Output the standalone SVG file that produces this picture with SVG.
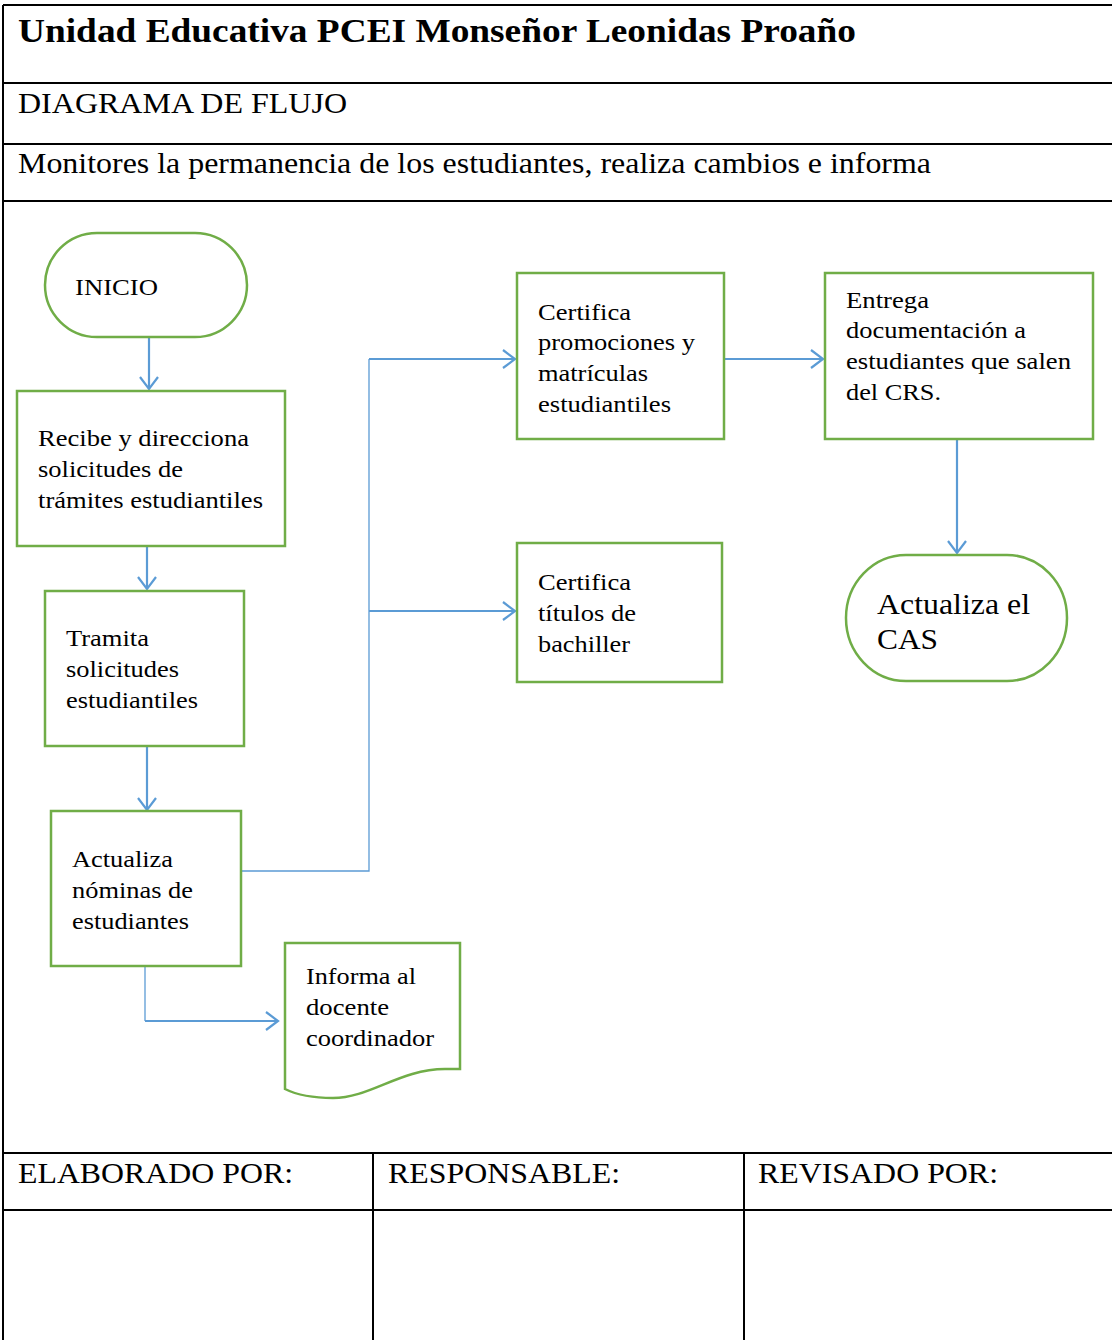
<svg xmlns="http://www.w3.org/2000/svg" width="1112" height="1340" viewBox="0 0 1112 1340">
<style>
.box{fill:#fff;stroke:#70AD47;stroke-width:2.5}
.c{fill:none;stroke:#5B9BD5;stroke-width:2.2}
.ct{fill:none;stroke:#5B9BD5;stroke-width:1.3}
.g{stroke:#000;stroke-width:2;fill:none}
</style>
<defs>
<marker id="a" markerUnits="userSpaceOnUse" markerWidth="16" markerHeight="22" refX="13" refY="10" orient="auto">
<path d="M1,1 L13,10 L1,19" fill="none" stroke="#5B9BD5" stroke-width="2.2"/>
</marker>
</defs>
<rect width="1112" height="1340" fill="#fff"/>
<g id="table" font-family="Liberation Serif, serif" fill="#000">
<path class="g" d="M3,5 H1112 M3,83 H1112 M3,144 H1112 M3,201 H1112 M3,1153 H1112 M3,1210 H1112 M3,5 V1340 M373,1153 V1340 M744,1153 V1340"/>
<text x="18" y="42" font-size="33" font-weight="bold" textLength="838" lengthAdjust="spacingAndGlyphs">Unidad Educativa PCEI Monseñor Leonidas Proaño</text>
<text x="18" y="113" font-size="29" textLength="329" lengthAdjust="spacingAndGlyphs">DIAGRAMA DE FLUJO</text>
<text x="18" y="173" font-size="29" textLength="913" lengthAdjust="spacingAndGlyphs">Monitores la permanencia de los estudiantes, realiza cambios e informa</text>
<text x="18" y="1183" font-size="29" textLength="275" lengthAdjust="spacingAndGlyphs">ELABORADO POR:</text>
<text x="388" y="1183" font-size="29" textLength="232" lengthAdjust="spacingAndGlyphs">RESPONSABLE:</text>
<text x="758" y="1183" font-size="29" textLength="240" lengthAdjust="spacingAndGlyphs">REVISADO POR:</text>
</g>
<g id="connectors">
<line class="c" x1="149" y1="337" x2="149" y2="389" marker-end="url(#a)"/>
<line class="c" x1="147" y1="546" x2="147" y2="589" marker-end="url(#a)"/>
<line class="c" x1="147" y1="746" x2="147" y2="810" marker-end="url(#a)"/>
<polyline class="ct" points="241,871 369,871 369,359"/>
<line class="c" x1="369" y1="359" x2="515" y2="359" marker-end="url(#a)"/>
<line class="c" x1="369" y1="611" x2="515" y2="611" marker-end="url(#a)"/>
<line class="c" x1="722" y1="359" x2="823" y2="359" marker-end="url(#a)"/>
<line class="c" x1="957" y1="439" x2="957" y2="553" marker-end="url(#a)"/>
<line class="ct" x1="145" y1="966" x2="145" y2="1021"/>
<line class="c" x1="145" y1="1021" x2="278" y2="1021" marker-end="url(#a)"/>
</g>
<g id="inicio" font-family="Liberation Serif, serif" font-size="23.5" fill="#000">
<rect class="box" x="45" y="233" width="202" height="104" rx="52" ry="52"/>
<text x="75" y="295" textLength="83" lengthAdjust="spacingAndGlyphs">INICIO</text>
</g>
<g id="recibe" font-family="Liberation Serif, serif" font-size="23.5" fill="#000">
<rect class="box" x="17" y="391" width="268" height="155"/>
<text x="38" y="446" textLength="211" lengthAdjust="spacingAndGlyphs">Recibe y direcciona</text>
<text x="38" y="477" textLength="145" lengthAdjust="spacingAndGlyphs">solicitudes de</text>
<text x="38" y="508" textLength="225" lengthAdjust="spacingAndGlyphs">trámites estudiantiles</text>
</g>
<g id="tramita" font-family="Liberation Serif, serif" font-size="23.5" fill="#000">
<rect class="box" x="45" y="591" width="199" height="155"/>
<text x="66" y="646" textLength="83" lengthAdjust="spacingAndGlyphs">Tramita</text>
<text x="66" y="677" textLength="113" lengthAdjust="spacingAndGlyphs">solicitudes</text>
<text x="66" y="708" textLength="132" lengthAdjust="spacingAndGlyphs">estudiantiles</text>
</g>
<g id="actualiza-nominas" font-family="Liberation Serif, serif" font-size="23.5" fill="#000">
<rect class="box" x="51" y="811" width="190" height="155"/>
<text x="72" y="867" textLength="101" lengthAdjust="spacingAndGlyphs">Actualiza</text>
<text x="72" y="898" textLength="121" lengthAdjust="spacingAndGlyphs">nóminas de</text>
<text x="72" y="929" textLength="117" lengthAdjust="spacingAndGlyphs">estudiantes</text>
</g>
<g id="informa" font-family="Liberation Serif, serif" font-size="23.5" fill="#000">
<path class="box" d="M285,943 H460 V1069 H445 C400,1069 370,1098 333,1098 C310,1098 295,1094 285,1089 Z"/>
<text x="306" y="984" textLength="110" lengthAdjust="spacingAndGlyphs">Informa al</text>
<text x="306" y="1015" textLength="83" lengthAdjust="spacingAndGlyphs">docente</text>
<text x="306" y="1046" textLength="128" lengthAdjust="spacingAndGlyphs">coordinador</text>
</g>
<g id="certifica-promociones" font-family="Liberation Serif, serif" font-size="23.5" fill="#000">
<rect class="box" x="517" y="273" width="207" height="166"/>
<text x="538" y="320" textLength="93" lengthAdjust="spacingAndGlyphs">Certifica</text>
<text x="538" y="350" textLength="157" lengthAdjust="spacingAndGlyphs">promociones y</text>
<text x="538" y="381" textLength="110" lengthAdjust="spacingAndGlyphs">matrículas</text>
<text x="538" y="412" textLength="133" lengthAdjust="spacingAndGlyphs">estudiantiles</text>
</g>
<g id="entrega" font-family="Liberation Serif, serif" font-size="23.5" fill="#000">
<rect class="box" x="825" y="273" width="268" height="166"/>
<text x="846" y="308" textLength="83" lengthAdjust="spacingAndGlyphs">Entrega</text>
<text x="846" y="338" textLength="180" lengthAdjust="spacingAndGlyphs">documentación a</text>
<text x="846" y="369" textLength="225" lengthAdjust="spacingAndGlyphs">estudiantes que salen</text>
<text x="846" y="400" textLength="95" lengthAdjust="spacingAndGlyphs">del CRS.</text>
</g>
<g id="certifica-titulos" font-family="Liberation Serif, serif" font-size="23.5" fill="#000">
<rect class="box" x="517" y="543" width="205" height="139"/>
<text x="538" y="590" textLength="93" lengthAdjust="spacingAndGlyphs">Certifica</text>
<text x="538" y="621" textLength="98" lengthAdjust="spacingAndGlyphs">títulos de</text>
<text x="538" y="652" textLength="92" lengthAdjust="spacingAndGlyphs">bachiller</text>
</g>
<g id="actualiza-cas" font-family="Liberation Serif, serif" font-size="30" fill="#000">
<rect class="box" x="846" y="555" width="221" height="126" rx="60" ry="63"/>
<text x="877" y="614" textLength="153" lengthAdjust="spacingAndGlyphs">Actualiza el</text>
<text x="877" y="649" textLength="61" lengthAdjust="spacingAndGlyphs">CAS</text>
</g>
</svg>
